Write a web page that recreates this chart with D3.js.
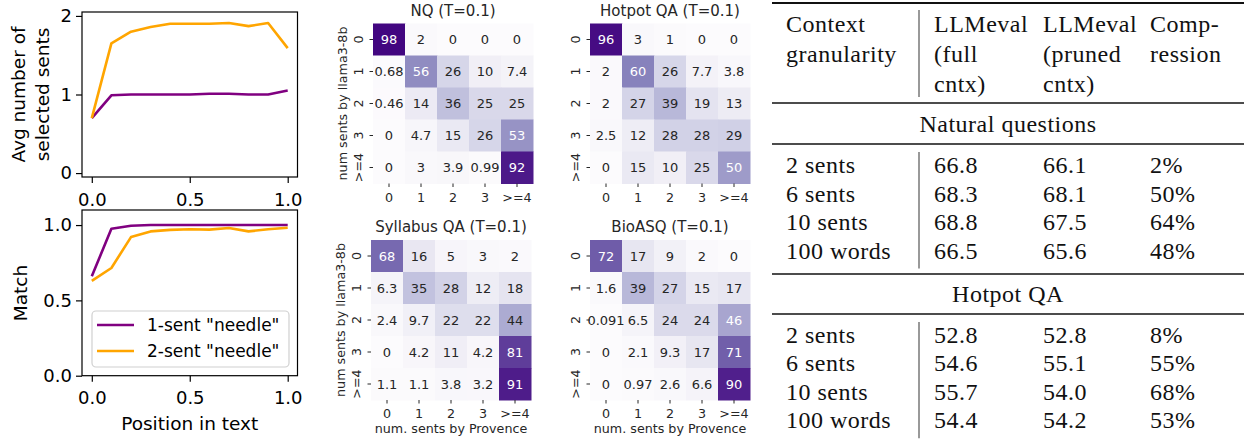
<!DOCTYPE html>
<html><head><meta charset="utf-8">
<script src="https://cdn.jsdelivr.net/npm/d3@7"></script>
<style>body{margin:0;background:#fff}svg{display:block}
.tbl text{font-family:'Liberation Serif','Times New Roman',serif;font-size:24px;letter-spacing:0.5px;}
</style>
</head><body>
<svg id="c" width="1245" height="444"></svg>
<script>
// ---------- data ----------
const positions = [0,0.1,0.2,0.3,0.4,0.5,0.6,0.7,0.8,0.9,1.0];
const avgSel1 = [0.70,0.99,1.00,1.00,1.00,1.00,1.01,1.01,1.00,1.00,1.05];
const avgSel2 = [0.70,1.65,1.80,1.86,1.90,1.90,1.90,1.91,1.87,1.91,1.59];
const match1  = [0.66,0.975,0.995,1.0,1.0,1.0,1.0,1.0,1.0,1.0,1.0];
const match2  = [0.63,0.715,0.92,0.958,0.968,0.972,0.970,0.980,0.958,0.972,0.982];
const seriesNames = ['1-sent "needle"','2-sent "needle"'];
const seriesColors = ["#800080","#FFA500"];
const xTicksLine = [0,0.5,1.0];
const yTicksAvg = [0,1,2];
const yTicksMatch = [0,0.5,1.0];

const hmCats = ["0","1","2","3",">=4"];
const hmNQ = [[98,2,0,0,0],[0.68,56,26,10,7.4],[0.46,14,36,25,25],[0,4.7,15,26,53],[0,3,3.9,0.99,92]];
const hmHotpot = [[96,3,1,0,0],[2,60,26,7.7,3.8],[2,27,39,19,13],[2.5,12,28,28,29],[0,15,10,25,50]];
const hmSyllabus = [[68,16,5,3,2],[6.3,35,28,12,18],[2.4,9.7,22,22,44],[0,4.2,11,4.2,81],[1.1,1.1,3.8,3.2,91]];
const hmBioASQ = [[72,17,9,2,0],[1.6,39,27,15,17],[0.091,6.5,24,24,46],[0,2.1,9.3,17,71],[0,0.97,2.6,6.6,90]];
const hmTitles = ["NQ (T=0.1)","Hotpot QA (T=0.1)","Syllabus QA (T=0.1)","BioASQ (T=0.1)"];

const tableHeader = [["Context","granularity"],["LLMeval","(full","cntx)"],["LLMeval","(pruned","cntx)"],["Comp-","ression"]];
const granularity = ["2 sents","6 sents","10 sents","100 words"];
const sectionNames = ["Natural questions","Hotpot QA"];
const nqFull = [66.8,68.3,68.8,66.5];
const nqPruned = [66.1,68.1,67.5,65.6];
const nqCompression = [2,50,64,48];
const hpFull = [52.8,54.6,55.7,54.4];
const hpPruned = [52.8,55.1,54.0,54.2];
const hpCompression = [8,55,68,53];

// ---------- drawing ----------
const svg = d3.select("#c");
const SANS = "'DejaVu Sans', sans-serif";

// line plots
const xL = d3.scaleLinear().domain([-0.05,1.05]).range([82,297.5]);
function linePanel(yScale, yTicks, yFmt, top, bottom, s1, s2) {
  const g = svg.append("g").style("font-family", SANS);
  const line = d3.line().x((d,i)=>xL(positions[i])).y(d=>yScale(d));
  [s1,s2].forEach((s,k)=>{
    g.append("path").datum(s).attr("d",line).attr("fill","none")
      .attr("stroke",seriesColors[k]).attr("stroke-width",2.6).attr("stroke-linejoin","round");
  });
  g.append("rect").attr("x",82).attr("y",top).attr("width",215.5).attr("height",bottom-top)
    .attr("fill","none").attr("stroke","#000").attr("stroke-width",1.2);
  const ax = g.append("g").attr("transform",`translate(0,${bottom})`)
    .call(d3.axisBottom(xL).tickValues(xTicksLine).tickFormat(d3.format(".1f")).tickSize(6).tickPadding(10));
  const ay = g.append("g").attr("transform","translate(82,0)")
    .call(d3.axisLeft(yScale).tickValues(yTicks).tickFormat(yFmt).tickSize(6).tickPadding(4));
  [ax,ay].forEach(a=>{
    a.select(".domain").remove();
    a.selectAll("line").attr("stroke","#000").attr("stroke-width",1.2);
    a.selectAll("text").attr("fill","#000").style("font-size","18px").style("font-family",SANS);
  });
  return g;
}
const yTop = d3.scaleLinear().domain([-0.05,2.05]).range([177,12]);
const yBot = d3.scaleLinear().domain([0,1.1]).range([375.7,210]);
const gTop = linePanel(yTop, yTicksAvg, d3.format("d"), 12, 177, avgSel1, avgSel2);
const gBot = linePanel(yBot, yTicksMatch, d3.format(".1f"), 210, 375.7, match1, match2);

gTop.append("text").attr("transform","translate(25,94.5) rotate(-90)").attr("text-anchor","middle")
  .style("font-size","18.5px").text("Avg number of");
gTop.append("text").attr("transform","translate(48.5,94.5) rotate(-90)").attr("text-anchor","middle")
  .style("font-size","18.5px").text("selected sents");
gBot.append("text").attr("transform","translate(26.5,293) rotate(-90)").attr("text-anchor","middle")
  .style("font-size","18.5px").text("Match");
gBot.append("text").attr("x",xL(0.5)).attr("y",430).attr("text-anchor","middle")
  .style("font-size","18.5px").text("Position in text");

// legend
const lg = gBot.append("g");
lg.append("rect").attr("x",92).attr("y",311).attr("width",197).attr("height",56).attr("rx",4)
  .attr("fill","#fff").attr("fill-opacity",0.8).attr("stroke","#d0d0d0").attr("stroke-width",1.2);
seriesNames.forEach((n,i)=>{
  const y = 325 + i*26;
  lg.append("line").attr("x1",97).attr("x2",134).attr("y1",y).attr("y2",y)
    .attr("stroke",seriesColors[i]).attr("stroke-width",2.6);
  lg.append("text").attr("x",147).attr("y",y).attr("dy","0.36em").style("font-size","17px").text(n);
});

// heatmaps
const color = d3.scaleSequential(d3.interpolatePurples).domain([0,100]);
const fmt = d3.format(".2~g");
function lum(c){
  const rgb = d3.rgb(c);
  const f = v => { v/=255; return v<=0.03928 ? v/12.92 : Math.pow((v+0.055)/1.055,2.4); };
  return 0.2126*f(rgb.r)+0.7152*f(rgb.g)+0.0722*f(rgb.b);
}
function heatmap(data, x0, y0, title, showY, showX) {
  const g = svg.append("g").style("font-family", SANS);
  const xs = d3.scaleBand().domain(hmCats).range([x0,x0+160]);
  const ys = d3.scaleBand().domain(hmCats).range([y0,y0+160]);
  const cells = [];
  data.forEach((row,r)=>row.forEach((v,c)=>cells.push({r:hmCats[r],c:hmCats[c],v})));
  g.selectAll("rect.cell").data(cells).join("rect").attr("class","cell")
    .attr("x",d=>xs(d.c)).attr("y",d=>ys(d.r)).attr("width",xs.bandwidth()+0.5).attr("height",ys.bandwidth()+0.5)
    .attr("fill",d=>color(d.v));
  g.selectAll("text.ann").data(cells).join("text").attr("class","ann")
    .attr("x",d=>xs(d.c)+xs.bandwidth()/2).attr("y",d=>ys(d.r)+ys.bandwidth()/2).attr("dy","0.36em")
    .attr("text-anchor","middle").style("font-size","13px")
    .attr("fill",d=>lum(color(d.v))>0.408 ? "#262626" : "#ffffff").text(d=>fmt(d.v));
  const ax = g.append("g").attr("transform",`translate(0,${y0+160})`)
    .call(d3.axisBottom(xs).tickSize(3.5).tickPadding(5.5));
  const ay = g.append("g").attr("transform",`translate(${x0},0)`)
    .call(d3.axisLeft(ys).tickSize(3.5).tickPadding(6));
  [ax,ay].forEach(a=>{
    a.select(".domain").remove();
    a.selectAll("line").attr("stroke","#262626").attr("stroke-width",1);
    a.selectAll("text").attr("fill","#262626").style("font-size","12.7px").style("font-family",SANS);
  });
  ay.selectAll(".tick text").attr("x",null).attr("dy",null).attr("text-anchor","middle")
    .attr("transform","translate(-10,0) rotate(-90)").attr("y",0);
  g.append("text").attr("x",x0+80).attr("y",y0-8).attr("text-anchor","middle")
    .attr("fill","#262626").style("font-size","15px").text(title);
  if (showY) g.append("text").attr("transform",`translate(${x0-26},${y0+80}) rotate(-90)`)
    .attr("text-anchor","middle").attr("fill","#262626").style("font-size","12.7px").text("num sents by llama3-8b");
  if (showX) g.append("text").attr("x",x0+80).attr("y",y0+193).attr("text-anchor","middle")
    .attr("fill","#262626").style("font-size","12.7px").text("num. sents by Provence");
}
heatmap(hmNQ, 373, 23.5, hmTitles[0], true, false);
heatmap(hmHotpot, 590, 23.5, hmTitles[1], false, false);
heatmap(hmSyllabus, 371, 240, hmTitles[2], true, true);
heatmap(hmBioASQ, 590, 240, hmTitles[3], false, true);

// table
const tg = svg.append("g").attr("class","tbl").attr("fill","#111");
const colX = [786,934,1043,1150];
const ruleL = 772, ruleR = 1244;
function hrule(y,w){ tg.append("line").attr("x1",ruleL).attr("x2",ruleR).attr("y1",y).attr("y2",y).attr("stroke","#111").attr("stroke-width",w); }
function vrule(y1,y2){ tg.append("line").attr("x1",919).attr("x2",919).attr("y1",y1).attr("y2",y2).attr("stroke","#555").attr("stroke-width",1.2); }
hrule(3,2); vrule(10,97);
tableHeader.forEach((lines,ci)=>lines.forEach((t,li)=>{
  tg.append("text").attr("x",colX[ci]).attr("y",31.7+li*30).text(t);
}));
hrule(103,1.3);
function section(name, baseName, ruleY, rowBase, full, pruned, comp){
  tg.append("text").attr("x",(ruleL+ruleR)/2).attr("y",baseName).attr("text-anchor","middle").text(name);
  hrule(ruleY,1.3);
  vrule(ruleY+8, rowBase+3*28.4+10);
  granularity.forEach((gname,i)=>{
    const y = rowBase + i*28.4;
    tg.append("text").attr("x",colX[0]).attr("y",y).text(gname);
    tg.append("text").attr("x",colX[1]).attr("y",y).text(d3.format(".1f")(full[i]));
    tg.append("text").attr("x",colX[2]).attr("y",y).text(d3.format(".1f")(pruned[i]));
    tg.append("text").attr("x",colX[3]).attr("y",y).text(comp[i]+"%");
  });
}
section(sectionNames[0], 131.7, 144, 173.3, nqFull, nqPruned, nqCompression);
hrule(274,1.3);
section(sectionNames[1], 302, 314, 343, hpFull, hpPruned, hpCompression);
</script>
</body></html>
